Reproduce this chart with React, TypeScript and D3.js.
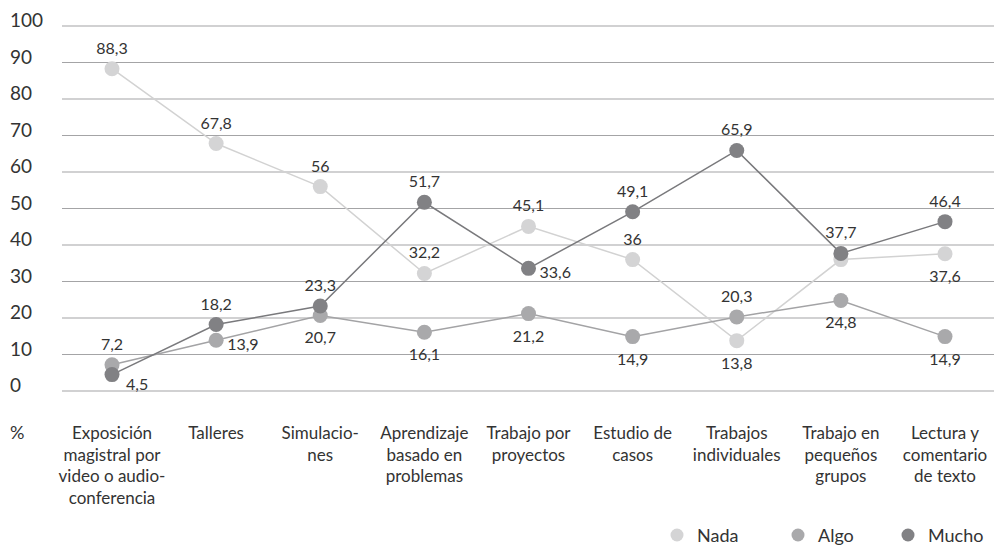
import * as d3 from "d3";

const categories = [
  ["Exposición", "magistral por", "video o audio-", "conferencia"],
  ["Talleres"],
  ["Simulacio-", "nes"],
  ["Aprendizaje", "basado en", "problemas"],
  ["Trabajo por", "proyectos"],
  ["Estudio de", "casos"],
  ["Trabajos", "individuales"],
  ["Trabajo en", "pequeños", "grupos"],
  ["Lectura y", "comentario", "de texto"],
];

const nada = [88.3, 67.8, 56, 32.2, 45.1, 36, 13.8, 36, 37.6];
const algo = [7.2, 13.9, 20.7, 16.1, 21.2, 14.9, 20.3, 24.8, 14.9];
const mucho = [4.5, 18.2, 23.3, 51.7, 33.6, 49.1, 65.9, 37.7, 46.4];

// where each value label sits: t = above, b = below, r = right, rb = right-below, n = none
const nadaPlace = ["t", "t", "t", "t", "t", "t", "b", "n", "b"];
const algoPlace = ["t", "r", "b", "b", "b", "b", "t", "b", "b"];
const muchoPlace = ["rb", "t", "t", "t", "r", "t", "t", "t", "t"];

const yTicks = [0, 10, 20, 30, 40, 50, 60, 70, 80, 90, 100];

const SERIES = [
  { key: "Nada", values: nada, place: nadaPlace, line: "#d2d2d2", dot: "#d4d4d5" },
  { key: "Algo", values: algo, place: algoPlace, line: "#a3a3a5", dot: "#a9a9ab" },
  { key: "Mucho", values: mucho, place: muchoPlace, line: "#79797c", dot: "#818184" },
];

const W = 994;
const H = 546;
const FONT = "Lato, 'Open Sans', sans-serif";
const TXT = "#333333";
const legendX = [677, 798, 908];

const fmt = (v: number) => String(v).replace(".", ",");

export default function App() {
  const idx = categories.map((_, i) => i);
  const x = d3.scalePoint<number>().domain(idx).range([112, 945]);
  const y = d3.scaleLinear().domain([0, 100]).range([391, 26]);
  const line = d3
    .line<number>()
    .x((_, i) => x(i) as number)
    .y((d) => y(d));

  const labelPos = (p: string, cx: number, cy: number) => {
    if (p === "t") return { x: cx, y: cy - 15, anchor: "middle" };
    if (p === "b") return { x: cx, y: cy + 28, anchor: "middle" };
    if (p === "r") return { x: cx + 11, y: cy + 10, anchor: "start" };
    return { x: cx + 14, y: cy + 15, anchor: "start" };
  };

  return (
    <svg
      width={W}
      height={H}
      style={{ position: "absolute", left: 0, top: 0, background: "#fff" }}
      fontFamily={FONT}
    >
      {yTicks.map((t) => (
        <g key={t}>
          <line x1={62} x2={W} y1={y(t)} y2={y(t)} stroke="#a4a4a6" strokeWidth={1.2} />
          <text x={10} y={y(t) + 1} fontSize={19} fill={TXT}>
            {t}
          </text>
        </g>
      ))}

      {SERIES.map((s) => (
        <path key={s.key} d={line(s.values) || ""} fill="none" stroke={s.line} strokeWidth={1.5} />
      ))}

      {SERIES.map((s) =>
        s.values.map((v, i) => (
          <circle key={s.key + i} cx={x(i)} cy={y(v)} r={7.5} fill={s.dot} />
        ))
      )}

      {SERIES.map((s) =>
        s.values.map((v, i) => {
          const p = s.place[i];
          if (p === "n") return null;
          const pos = labelPos(p, x(i) as number, y(v));
          return (
            <text
              key={"l" + s.key + i}
              x={pos.x}
              y={pos.y}
              textAnchor={pos.anchor}
              fontSize={16}
              fill={TXT}
            >
              {fmt(v)}
            </text>
          );
        })
      )}

      <text x={10} y={439} fontSize={18} fill={TXT}>
        %
      </text>
      {categories.map((lines, i) => (
        <text key={i} x={x(i)} y={439} textAnchor="middle" fontSize={17} fill={TXT}>
          {lines.map((ln, j) => (
            <tspan key={j} x={x(i)} dy={j === 0 ? 0 : 21.5}>
              {ln}
            </tspan>
          ))}
        </text>
      ))}

      {SERIES.map((s, i) => (
        <g key={"lg" + s.key} transform={`translate(${legendX[i]},535)`}>
          <circle r={6.5} fill={s.dot} />
          <text x={20} y={6.5} fontSize={18} fill={TXT}>
            {s.key}
          </text>
        </g>
      ))}
    </svg>
  );
}
